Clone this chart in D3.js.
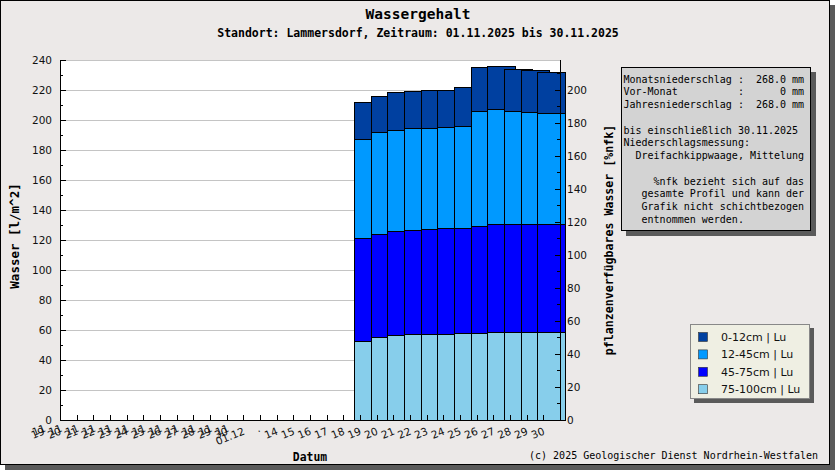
<!DOCTYPE html>
<html>
<head>
<meta charset="utf-8">
<script src="https://cdn.jsdelivr.net/npm/d3@7"></script>
<style>
	body { margin: 0; background: #fff; }
	svg { display: block; }
	.mono { font-family: "DejaVu Sans Mono", monospace; }
	.sans { font-family: "DejaVu Sans", sans-serif; }
</style>
</head>
<body>
<svg id="chart" width="835" height="470"></svg>
<script>
/**
 * Data
 */
let days = [19, 20, 21, 22, 23, 24, 25, 26, 27, 28, 29, 30];
let layerNames = ["0-12cm | Lu", "12-45cm | Lu", "45-75cm | Lu", "75-100cm | Lu"];
let layer0to12 = [24.6, 24.0, 25.3, 24.7, 25.3, 24.6, 25.6, 28.9, 28.2, 28.0, 27.5, 27.4];
let layer12to45 = [66.5, 68.0, 67.8, 68.5, 67.8, 67.8, 68.4, 77.1, 77.2, 75.8, 75.2, 74.0];
let layer45to75 = [68.2, 68.3, 68.9, 68.9, 69.6, 70.3, 69.6, 70.9, 71.5, 71.5, 71.5, 71.5];
let layer75to100 = [52.9, 55.5, 56.9, 57.5, 57.5, 57.5, 58.2, 58.2, 58.9, 58.9, 58.9, 58.9];

// tick positions (day of month) and their labels as they appear
let xTickDays = d3.range(0, 31);
let xTickLabels = ["19", "20", "21", "22", "23", "24", "25", "26", "27", "28", "29", "30",
	"01.12", "\u00b7", "14", "15", "16", "17", "18",
	"19", "20", "21", "22", "23", "24", "25", "26", "27", "28", "29", "30"];
let xOverlayDays = d3.range(0, 12);

let infoLines = [
	"Monatsniederschlag :  268.0 mm",
	"Vor-Monat          :      0 mm",
	"Jahresniederschlag :  268.0 mm",
	"",
	"bis einschlie\u00dflich 30.11.2025",
	"Niederschlagsmessung:",
	"  Dreifachkippwaage, Mittelung",
	"",
	"     %nfk bezieht sich auf das",
	"   gesamte Profil und kann der",
	"   Grafik nicht schichtbezogen",
	"   entnommen werden."
];

let colors = ["#0040a0", "#0099ff", "#0000ff", "#87ceeb"];

/**
 * Layout
 */
let svg = d3.select("#chart");
let plot = { left: 60, right: 560, top: 60, bottom: 420 };

let x = d3.scaleLinear().domain([1, 31]).range([plot.left, plot.right]);
let yLeft = d3.scaleLinear().domain([0, 240]).range([plot.bottom, plot.top]);
let yRight = d3.scaleLinear().domain([0, 218.18]).range([plot.bottom, plot.top]);

// Frame with shadow
svg.append("rect").attr("x", 5).attr("y", 5).attr("width", 830).attr("height", 465).attr("fill", "#5a5a5a");
svg.append("rect").attr("x", 0.5).attr("y", 0.5).attr("width", 829).attr("height", 464)
	.attr("fill", "#ece9e8").attr("stroke", "#000");

// Titles
svg.append("text").attr("class", "mono").attr("x", 418).attr("y", 19)
	.attr("text-anchor", "middle").attr("font-size", 14.5).attr("font-weight", "bold")
	.text("Wassergehalt");
svg.append("text").attr("class", "mono").attr("x", 418).attr("y", 37)
	.attr("text-anchor", "middle").attr("font-size", 11.5).attr("font-weight", "bold")
	.text("Standort: Lammersdorf, Zeitraum: 01.11.2025 bis 30.11.2025");

// Plot background
svg.append("rect").attr("x", plot.left).attr("y", plot.top)
	.attr("width", plot.right - plot.left).attr("height", plot.bottom - plot.top)
	.attr("fill", "#fff");

// Gridlines
svg.append("g").selectAll("line").data(d3.range(20, 241, 20)).enter()
	.append("line")
	.attr("x1", plot.left).attr("x2", plot.right)
	.attr("y1", d => yLeft(d) + 0.5).attr("y2", d => yLeft(d) + 0.5)
	.attr("stroke", "#c4c4c4");

/**
 * Stacked bars, one group per day so later days overlap earlier ones
 */
let rows = days.map((d, i) => ({
	day: d,
	l75: layer75to100[i], l45: layer45to75[i], l12: layer12to45[i], l0: layer0to12[i]
}));
let keys = ["l75", "l45", "l12", "l0"];
let keyColor = { l0: colors[0], l12: colors[1], l45: colors[2], l75: colors[3] };
let series = d3.stack().keys(keys)(rows);

let barOffset = 0.36, barSpan = 1.68;
let dayGroups = svg.append("g").selectAll("g.day").data(rows).enter()
	.append("g").attr("class", "day");

dayGroups.selectAll("rect")
	.data((d, i) => series.map(s => ({ key: s.key, seg: s[i], day: d.day })))
	.enter()
	.append("rect")
	.attr("x", d => Math.round(x(d.day - barOffset)) + 0.5)
	.attr("width", d => Math.round(x(d.day - barOffset + barSpan) - x(d.day - barOffset)))
	.attr("y", d => Math.round(yLeft(d.seg[1])) + 0.5)
	.attr("height", d => Math.round(yLeft(d.seg[0])) - Math.round(yLeft(d.seg[1])))
	.attr("fill", d => keyColor[d.key])
	.attr("stroke", "#000")
	.attr("stroke-width", 1);

/**
 * Axes
 */
let axes = svg.append("g").attr("stroke", "#000").attr("shape-rendering", "crispEdges");
axes.append("line").attr("x1", plot.left).attr("x2", plot.left).attr("y1", plot.top).attr("y2", plot.bottom);
axes.append("line").attr("x1", plot.right).attr("x2", plot.right).attr("y1", plot.top).attr("y2", plot.bottom);
axes.append("line").attr("x1", plot.left).attr("x2", plot.right).attr("y1", plot.bottom).attr("y2", plot.bottom);

// left ticks
axes.selectAll("line.lt").data(d3.range(0, 241, 10)).enter()
	.append("line").attr("class", "lt")
	.attr("x1", plot.left).attr("x2", d => plot.left + (d % 20 === 0 ? 6 : 3))
	.attr("y1", d => Math.round(yLeft(d))).attr("y2", d => Math.round(yLeft(d)));

// right ticks
axes.selectAll("line.rt").data(d3.range(0, 211, 10)).enter()
	.append("line").attr("class", "rt")
	.attr("x1", plot.right).attr("x2", d => plot.right - (d % 20 === 0 ? 5 : 3))
	.attr("y1", d => Math.round(yRight(d))).attr("y2", d => Math.round(yRight(d)));

// x ticks
axes.selectAll("line.xt").data(d3.range(1, 31)).enter()
	.append("line").attr("class", "xt")
	.attr("x1", d => Math.round(x(d))).attr("x2", d => Math.round(x(d)))
	.attr("y1", plot.bottom).attr("y2", plot.bottom - 5);

// tick labels
svg.append("g").selectAll("text").data(d3.range(0, 241, 20)).enter()
	.append("text").attr("class", "sans").attr("font-size", 10.5).attr("fill", "#111")
	.attr("x", 52).attr("y", d => yLeft(d) + 4).attr("text-anchor", "end")
	.text(d => d);

svg.append("g").selectAll("text").data(d3.range(0, 201, 20)).enter()
	.append("text").attr("class", "sans").attr("font-size", 10.5).attr("fill", "#111")
	.attr("x", 567).attr("y", d => yRight(d) + 4)
	.text(d => d);

let xLabels = svg.append("g");
xLabels.selectAll("text.lab").data(xTickDays).enter()
	.append("text").attr("class", "sans lab").attr("font-size", 10.5).attr("fill", "#111")
	.attr("text-anchor", "end")
	.attr("transform", d => "translate(" + (x(d) + 2) + "," + 434 + ") rotate(-22)")
	.text((d, i) => xTickLabels[i]);
xLabels.selectAll("text.ov").data(xOverlayDays).enter()
	.append("text").attr("class", "sans ov").attr("font-size", 10.5).attr("fill", "#111")
	.attr("text-anchor", "end")
	.attr("transform", d => "translate(" + (x(d) + 3) + "," + 431 + ") rotate(-22)")
	.text("11");

// axis titles
svg.append("text").attr("class", "mono").attr("font-size", 12.5).attr("font-weight", "bold")
	.attr("text-anchor", "middle")
	.attr("transform", "translate(19,236) rotate(-90)")
	.text("Wasser [l/m^2]");
svg.append("text").attr("class", "mono").attr("font-size", 11.6).attr("font-weight", "bold")
	.attr("text-anchor", "middle")
	.attr("transform", "translate(613,240) rotate(-90)")
	.text("pflanzenverf\u00fcgbares Wasser [%nfk]");
svg.append("text").attr("class", "mono").attr("font-size", 11.4).attr("font-weight", "bold")
	.attr("x", 310).attr("y", 461).attr("text-anchor", "middle")
	.text("Datum");
svg.append("text").attr("class", "mono").attr("font-size", 10)
	.attr("x", 818).attr("y", 459).attr("text-anchor", "end")
	.text("(c) 2025 Geologischer Dienst Nordrhein-Westfalen");

/**
 * Info box
 */
let info = svg.append("g");
info.append("rect").attr("x", 626).attr("y", 72).attr("width", 190).attr("height", 164).attr("fill", "#5a5a5a");
info.append("rect").attr("x", 621.5).attr("y", 67.5).attr("width", 189).attr("height", 163)
	.attr("fill", "#d3d3d3").attr("stroke", "#000");
info.selectAll("text").data(infoLines).enter()
	.append("text").attr("class", "mono").attr("font-size", 10).attr("fill", "#000")
	.attr("xml:space", "preserve").style("white-space", "pre")
	.attr("x", 623.5).attr("y", (d, i) => 82.5 + i * 12.75)
	.text(d => d);

/**
 * Legend
 */
let legend = svg.append("g");
legend.append("rect").attr("x", 694).attr("y", 328).attr("width", 120).attr("height", 75).attr("fill", "#5a5a5a");
legend.append("rect").attr("x", 690.5).attr("y", 324.5).attr("width", 119).attr("height", 74)
	.attr("fill", "#efefe3").attr("stroke", "#888");
let items = legend.selectAll("g.item").data(layerNames).enter()
	.append("g").attr("class", "item")
	.attr("transform", (d, i) => "translate(698," + (337 + i * 17.4) + ")");
items.append("rect").attr("x", 0.5).attr("y", -4.5).attr("width", 9).attr("height", 9)
	.attr("fill", (d, i) => colors[i]).attr("stroke", "#333").attr("stroke-width", 0.6);
items.append("text").attr("class", "sans").attr("font-size", 11).attr("fill", "#111")
	.attr("x", 23).attr("y", 4)
	.text(d => d);
</script>
</body>
</html>
